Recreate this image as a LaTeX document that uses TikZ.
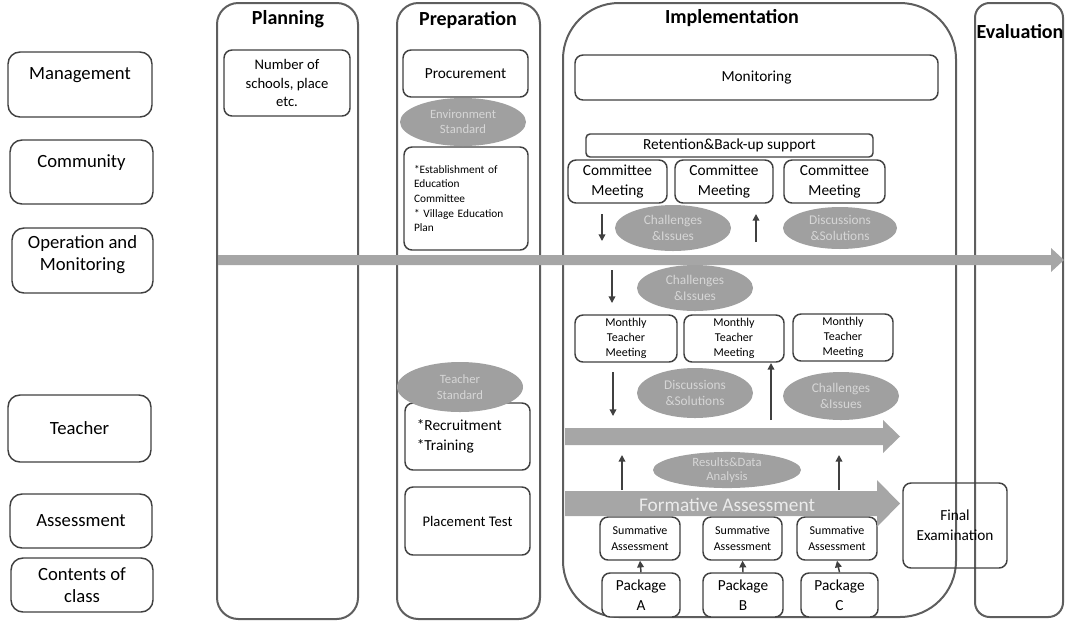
\documentclass[tikz,border=0pt]{standalone}
\usepackage{fontspec}
\setmainfont{Carlito}
\usetikzlibrary{arrows.meta,shapes.geometric}

\definecolor{boxline}{HTML}{404040}
\definecolor{colline}{HTML}{5E5E5E}
\definecolor{ellfill}{HTML}{A0A0A0}
\definecolor{elltext}{HTML}{D6D6D6}
\definecolor{arrfill}{HTML}{A6A6A6}

\newcommand\fs[2]{\fontsize{#1}{#2}\selectfont}

\newcommand\mybox[7][]{%
 \pgfmathsetmacro\bw{(#5-#3)*0.75}%
 \pgfmathsetmacro\bh{(#6-#4)*0.75}%
 \node[box,minimum width=\bw pt,minimum height=\bh pt,#1] (#2) at ({(#3+#5)/2},{(#4+#6)/2}) {#7};}

\newcommand\myell[7][]{%
 \pgfmathsetmacro\ew{#5*1.5}%
 \pgfmathsetmacro\eh{#6*1.5}%
 \node[ell,minimum width=\ew pt,minimum height=\eh pt,#1] (#2) at (#3,#4) {#7};}

\tikzset{
 box/.style={draw=boxline, line width=1.1pt, fill=white, rounded corners=6pt, align=center, inner sep=1pt, font=\fs{11.5}{15}},
 lab/.style={rounded corners=9pt, font=\fs{14}{17}},
 col/.style={draw=colline, line width=1.5pt},
 coltitle/.style={font=\fs{15}{18}\bfseries, inner sep=0pt},
 ell/.style={ellipse, fill=ellfill, draw=none, inner sep=0pt, align=center, text=elltext, font=\fs{10}{12}},
 bigarr/.style={fill=arrfill, draw=none},
 sarr/.style={draw=boxline, line width=1.1pt, -{Triangle[length=5pt,width=5pt]}}
}

\begin{document}
\begin{tikzpicture}[x=0.75pt,y=-0.75pt]
\useasboundingbox (0,0) rectangle (1067,622);

% columns
\draw[col, rounded corners=16pt] (217,3) rectangle (358,619);
\draw[col, rounded corners=16pt] (397,3) rectangle (540,619);
\draw[col, rounded corners=42pt] (563,3) rectangle (956,617);
\draw[col, rounded corners=11pt] (975,3) rectangle (1063,617);
\node[coltitle] (tplan) at (288,19) {Planning};
\node[coltitle] (tprep) at (468,20) {Preparation};
\node[coltitle] (timpl) at (732,18) {Implementation};
\node[coltitle] (teval) at (1020,32) {Evaluation};

% left labels
\mybox[lab]{mgmt}{8}{52}{152}{117}{Management\\\phantom{M}}
\mybox[lab]{comm}{10}{140}{153}{204}{Community\\\phantom{M}}
\mybox[lab,yshift=0pt]{opm}{12}{228}{153}{293}{Operation and\\Monitoring\\[-6pt]\mbox{}}
\mybox[lab]{teach}{8}{395}{151}{462}{Teacher}
\mybox[lab]{assess}{10}{494}{152}{548}{Assessment}
\mybox[lab]{contents}{11}{558}{153}{612}{Contents of\\class}

% planning
\mybox[font=\fs{11}{14}]{nsch}{224}{50}{350}{116}{Number of\\schools, place\\etc.}

% preparation
\mybox{proc}{403}{50}{528}{97}{Procurement}
\mybox[align=left, text width=78pt, inner xsep=7pt, font=\fs{8.5}{11}]{estab}{404}{147}{528}{250}{{*}Establishment of\\Education\\Committee\\{*} Village Education\\Plan}
\mybox[align=left, text width=76pt, inner xsep=8pt]{recr}{405}{403}{530}{470}{{*}Recruitment\\{*}Training}
\mybox[font=\fs{11}{14}]{place}{405}{487}{530}{555}{Placement Test}

% implementation
\mybox{mon}{575}{55}{938}{100}{Monitoring}
\mybox[rounded corners=3pt]{ret}{586}{134}{873}{157}{Retention\&Back-up support}
\mybox{cm1}{568}{160}{667}{203}{Committee\\Meeting}
\mybox{cm2}{675}{160}{773}{203}{Committee\\Meeting}
\mybox{cm3}{784}{160}{885}{203}{Committee\\Meeting}
\mybox[font=\fs{9}{11.5}]{mt1}{575}{315}{677}{362}{Monthly\\Teacher\\Meeting}
\mybox[font=\fs{9}{11.5}]{mt2}{684}{315}{784}{362}{Monthly\\Teacher\\Meeting}
\mybox[font=\fs{9}{11.5}]{mt3}{793}{314}{893}{361}{Monthly\\Teacher\\Meeting}
\mybox[font=\fs{9}{12.5}]{sm1}{600}{517}{680}{560}{Summative\\Assessment}
\mybox[font=\fs{9}{12.5}]{sm2}{703}{517}{782}{560}{Summative\\Assessment}
\mybox[font=\fs{9}{12.5}]{sm3}{797}{517}{877}{560}{Summative\\Assessment}
\mybox{pk1}{602}{573}{680}{617}{Package\\A}
\mybox{pk2}{703}{573}{783}{617}{Package\\B}
\mybox{pk3}{801}{573}{878}{617}{Package\\C}

% evaluation
\mybox[fill=none]{fin}{903}{483}{1007}{568}{Final\\Examination}

% big arrows
\fill[bigarr] (218,255) -- (1051,255) -- (1051,248) -- (1064,260) -- (1051,272) -- (1051,265) -- (218,265) -- cycle;
\fill[bigarr] (565,428) -- (883,428) -- (883,420) -- (900,436.5) -- (883,453) -- (883,445) -- (565,445) -- cycle;
\fill[bigarr] (565,491) -- (877,491) -- (877,480) -- (900,503.5) -- (877,527) -- (877,516) -- (565,516) -- cycle;
\node[font=\fs{14.5}{17}, text=white!92!black, inner sep=0pt] (form) at (727,505) {Formative Assessment};

% ellipses
\myell[font=\fs{9.5}{11.5}]{env}{463}{122}{63}{24}{Environment\\Standard}
\myell[font=\fs{9.5}{11.5}]{tstd}{460}{387}{63}{25}{Teacher\\Standard}
\myell{ch1}{673}{228}{58}{23}{Challenges\\\&Issues}
\myell{ds1}{840}{228}{57}{21}{Discussions\\\&Solutions}
\myell{ch2}{695}{288}{58}{23}{Challenges\\\&Issues}
\myell{ds2}{695}{393}{58}{25}{Discussions\\\&Solutions}
\myell{ch3}{841}{396}{58}{24}{Challenges\\\&Issues}
\myell[font=\fs{9.5}{11}]{res}{727}{470}{74}{18}{Results\&Data\\Analysis}

% small arrows
\coordinate (a1s) at (602,214); \coordinate (a1e) at (602,241);
\coordinate (a2s) at (756,242); \coordinate (a2e) at (756,214);
\coordinate (a3s) at (612,270); \coordinate (a3e) at (612,303);
\coordinate (a4s) at (613,372); \coordinate (a4e) at (613,416);
\coordinate (a5s) at (771,420); \coordinate (a5e) at (771,363);
\coordinate (a6s) at (622,490); \coordinate (a6e) at (622,455);
\coordinate (a7s) at (839,490); \coordinate (a7e) at (839,455);
\draw[sarr] (a1s) -- (a1e);
\draw[sarr] (a2s) -- (a2e);
\draw[sarr] (a3s) -- (a3e);
\draw[sarr] (a4s) -- (a4e);
\draw[sarr] (a5s) -- (a5e);
\draw[sarr] (a6s) -- (a6e);
\draw[sarr] (a7s) -- (a7e);
\draw[sarr] (pk1.north) -- (sm1.south);
\draw[sarr] (pk2.north) -- (sm2.south);
\draw[sarr] (pk3.north) -- (sm3.south);
\end{tikzpicture}
\end{document}
